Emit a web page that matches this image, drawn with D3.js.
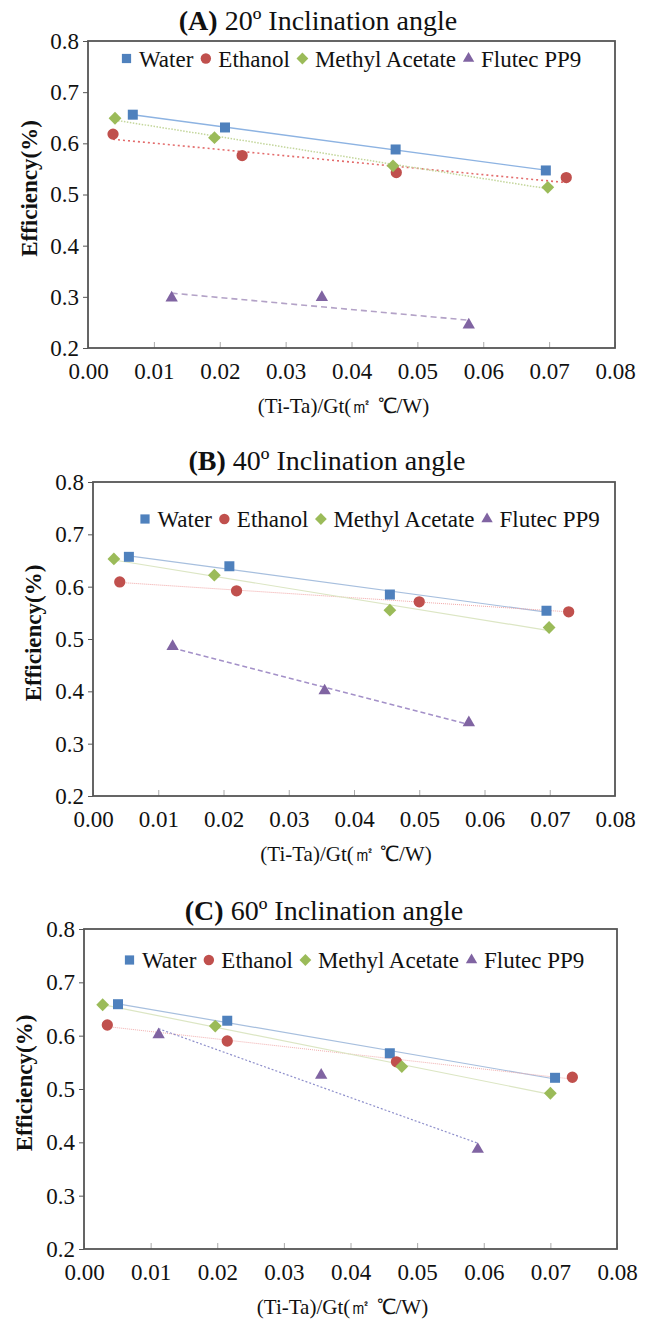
<!DOCTYPE html>
<html>
<head>
<meta charset="utf-8">
<script src="https://cdn.jsdelivr.net/npm/d3@7"></script>
<style>
  body { margin: 0; background: #fff; }
  text { font-family: "Liberation Serif", "Times New Roman", serif; fill: #111; }
</style>
</head>
<body>
<div id="chart"></div>
<script>
// ---- data: [x = (Ti-Ta)/Gt, y = efficiency] ----
const water20   = [[0.0068, 0.656], [0.0208, 0.631], [0.0467, 0.588], [0.0695, 0.547]];
const ethanol20 = [[0.0038, 0.618], [0.0234, 0.576], [0.0468, 0.543], [0.0726, 0.533]];
const methyl20  = [[0.0041, 0.649], [0.0192, 0.611], [0.0463, 0.556], [0.0698, 0.514]];
const flutec20  = [[0.0127, 0.298], [0.0355, 0.299], [0.0578, 0.245]];

const water40   = [[0.0055, 0.657], [0.0209, 0.639], [0.0455, 0.585], [0.0695, 0.554]];
const ethanol40 = [[0.0041, 0.609], [0.0220, 0.592], [0.0500, 0.571], [0.0729, 0.552]];
const methyl40  = [[0.0032, 0.653], [0.0186, 0.622], [0.0455, 0.555], [0.0699, 0.522]];
const flutec40  = [[0.0122, 0.486], [0.0355, 0.401], [0.0576, 0.340]];

const water60   = [[0.0051, 0.659], [0.0215, 0.628], [0.0459, 0.567], [0.0707, 0.521]];
const ethanol60 = [[0.0035, 0.620], [0.0215, 0.590], [0.0469, 0.551], [0.0733, 0.522]];
const methyl60  = [[0.0028, 0.658], [0.0197, 0.618], [0.0477, 0.542], [0.0700, 0.492]];
const flutec60  = [[0.0112, 0.602], [0.0356, 0.526], [0.0591, 0.387]];

const seriesNames = ["Water", "Ethanol", "Methyl Acetate", "Flutec PP9"];
const panelLetters = ["(A)", "(B)", "(C)"];
const panelAngles = [" 20º Inclination angle", " 40º Inclination angle", " 60º Inclination angle"];
const xTicks = [0, 0.01, 0.02, 0.03, 0.04, 0.05, 0.06, 0.07, 0.08];
const yTicks = [0.2, 0.3, 0.4, 0.5, 0.6, 0.7, 0.8];
const xLabel = "(Ti-Ta)/Gt(㎡ ℃/W)";
const yLabel = "Efficiency(%)";

// ---- look ----
const width = 648, height = 1319;
const markerColors = ["#4F81BD", "#C0504D", "#9BBB59", "#8064A2"];
const symbols = [d3.symbolSquare, d3.symbolCircle, d3.symbolSquare, d3.symbolTriangle];
const symbolSizes = [100, 100, 82, 66];
const symbolRotate = [0, 0, 45, 0];

// trend line look, one row per panel
const trendStyles = [
  [{c: "#8DB3E2", w: 1.4, d: null}, {c: "#E36C6C", w: 1.6, d: "2,3"}, {c: "#C3D69B", w: 1.5, d: "1.5,1.5"}, {c: "#B3A2C7", w: 1.6, d: "6,4"}],
  [{c: "#A7BFDE", w: 1.2, d: null}, {c: "#F2A7A7", w: 1.0, d: "1,1"}, {c: "#DCE6C4", w: 1.2, d: null}, {c: "#A390C8", w: 1.4, d: "5,3"}],
  [{c: "#A7BFDE", w: 1.2, d: null}, {c: "#F2B0B0", w: 1.0, d: "1,1"}, {c: "#DCE6C4", w: 1.2, d: null}, {c: "#8E8FCB", w: 1.2, d: "2,2"}]
];

const panels = [
  {series: [water20, ethanol20, methyl20, flutec20], left: 88, right: 615, top: 41, bottom: 348,
   titleX: 318, titleY: 30, legendX: 126.5, legendY: 58.5, yTitleX: 29},
  {series: [water40, ethanol40, methyl40, flutec40], left: 93, right: 615, top: 482, bottom: 796,
   titleX: 327, titleY: 470, legendX: 145, legendY: 519, yTitleX: 33},
  {series: [water60, ethanol60, methyl60, flutec60], left: 84, right: 617, top: 929, bottom: 1249,
   titleX: 324, titleY: 920, legendX: 129.5, legendY: 960, yTitleX: 24}
];

// least squares trend line spanning the series' x range
function trend(pts) {
  const mx = d3.mean(pts, d => d[0]), my = d3.mean(pts, d => d[1]);
  const sxy = d3.sum(pts, d => (d[0] - mx) * (d[1] - my));
  const sxx = d3.sum(pts, d => (d[0] - mx) ** 2);
  const b = sxy / sxx, a = my - b * mx;
  const [x0, x1] = d3.extent(pts, d => d[0]);
  return [[x0, a + b * x0], [x1, a + b * x1]];
}

const svg = d3.select("#chart").append("svg")
  .attr("width", width)
  .attr("height", height);

panels.forEach((p, pi) => {
  const x = d3.scaleLinear().domain([0, 0.08]).range([p.left, p.right]);
  const y = d3.scaleLinear().domain([0.2, 0.8]).range([p.bottom, p.top]);
  const g = svg.append("g");

  // title
  const title = g.append("text")
    .attr("x", p.titleX)
    .attr("y", p.titleY)
    .attr("text-anchor", "middle")
    .attr("font-size", 28);
  title.append("tspan").attr("font-weight", "bold").text(panelLetters[pi]);
  title.append("tspan").text(panelAngles[pi]);

  // inner x ticks
  g.append("g")
    .attr("transform", `translate(0,${p.bottom})`)
    .call(d3.axisBottom(x).tickValues(xTicks).tickSize(-6).tickFormat(""))
    .call(a => a.select(".domain").remove())
    .call(a => a.selectAll("line").attr("stroke", "#aaa"));

  // x labels
  g.append("g")
    .attr("transform", `translate(0,${p.bottom})`)
    .call(d3.axisBottom(x).tickValues(xTicks).tickSize(0).tickPadding(15).tickFormat(d3.format(".2f")))
    .call(a => a.select(".domain").remove())
    .call(a => a.selectAll("text").attr("font-size", 23).attr("fill", "#111"));

  // y axis
  g.append("g")
    .attr("transform", `translate(${p.left},0)`)
    .call(d3.axisLeft(y).tickValues(yTicks).tickSize(5).tickPadding(4).tickFormat(d3.format(".1f")))
    .call(a => a.select(".domain").remove())
    .call(a => a.selectAll("line").attr("stroke", "#555"))
    .call(a => a.selectAll("text").attr("font-size", 23).attr("fill", "#111"));

  // frame
  g.append("rect")
    .attr("x", p.left).attr("y", p.top)
    .attr("width", p.right - p.left).attr("height", p.bottom - p.top)
    .attr("fill", "none")
    .attr("stroke", "#555")
    .attr("stroke-width", 1.8);

  // axis titles
  g.append("text")
    .attr("x", (p.left + p.right) / 2 - 8)
    .attr("y", p.bottom + 65)
    .attr("text-anchor", "middle")
    .attr("font-size", 21)
    .text(xLabel);

  g.append("text")
    .attr("transform", `translate(${p.yTitleX},${(p.top + p.bottom) / 2 - 6}) rotate(-90)`)
    .attr("text-anchor", "middle")
    .attr("dominant-baseline", "central")
    .attr("font-size", 23)
    .attr("font-weight", "bold")
    .text(yLabel);

  // trend lines
  const line = d3.line().x(d => x(d[0])).y(d => y(d[1]));
  p.series.forEach((s, si) => {
    const st = trendStyles[pi][si];
    g.append("path")
      .attr("d", line(trend(s)))
      .attr("fill", "none")
      .attr("stroke", st.c)
      .attr("stroke-width", st.w)
      .attr("stroke-dasharray", st.d);
  });

  // markers
  p.series.forEach((s, si) => {
    g.selectAll(null)
      .data(s)
      .join("path")
      .attr("transform", d => `translate(${x(d[0])},${y(d[1])}) rotate(${symbolRotate[si]})`)
      .attr("d", d3.symbol(symbols[si], symbolSizes[si]))
      .attr("fill", markerColors[si]);
  });

  // legend
  let lx = p.legendX;
  seriesNames.forEach((name, si) => {
    g.append("path")
      .attr("transform", `translate(${lx},${p.legendY}) rotate(${symbolRotate[si]})`)
      .attr("d", d3.symbol(symbols[si], symbolSizes[si] * 0.85))
      .attr("fill", markerColors[si]);
    const t = g.append("text")
      .attr("x", lx + 12.5)
      .attr("y", p.legendY + 8)
      .attr("font-size", 23)
      .text(name);
    lx += 12.5 + t.node().getComputedTextLength() + 12.5;
  });
});
</script>
</body>
</html>
